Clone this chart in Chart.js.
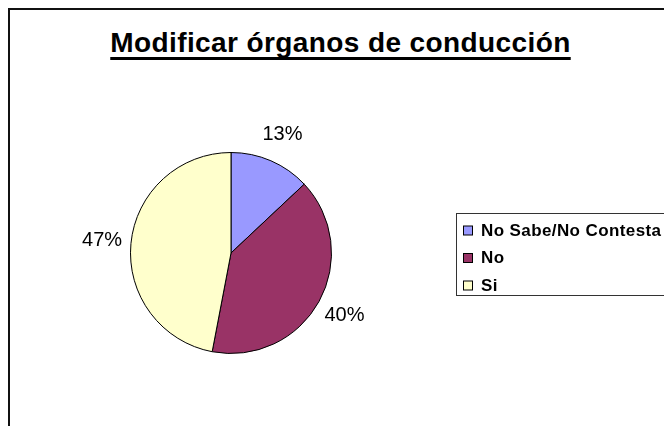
<!DOCTYPE html>
<html>
<head>
<meta charset="utf-8">
<script src="https://cdn.jsdelivr.net/npm/chart.js@4/dist/chart.umd.min.js"></script>
<style>
	html, body { margin: 0; padding: 0; background: #fff; overflow: hidden; }
	#wrap { position: relative; width: 664px; height: 426px; overflow: hidden; }
	#frame {
		position: absolute; left: 8px; top: 8px; width: 720px; height: 500px;
		border: 2px solid #111; box-sizing: border-box;
	}
	#title {
		position: absolute; left: 104px; width: 473px; top: 29px;
		text-align: center; font: bold 28px 'Liberation Sans', Arial, sans-serif;
		line-height: 28px; letter-spacing: 0.4px; color: #000;
		text-decoration: underline; text-decoration-thickness: 3px;
		text-decoration-skip-ink: none;
		text-underline-offset: 5px; white-space: nowrap;
	}
	canvas { position: absolute; left: 0; top: 0; }
</style>
</head>
<body>
<div id="wrap">
	<div id="frame"></div>
	<div id="title">Modificar órganos de conducción</div>
	<canvas id="pieChart" width="664" height="426"></canvas>
</div>
<script>
const categories = ['No Sabe/No Contesta', 'No', 'Si'];
const values = [13, 40, 47];
const sliceColors = ['#9999FF', '#993366', '#FFFFCC'];

// percentage labels outside each slice
const pctLabels = {
	id: 'pctLabels',
	afterDatasetsDraw(chart) {
		const ctx = chart.ctx;
		const meta = chart.getDatasetMeta(0);
		const total = values.reduce((a, b) => a + b, 0);
		ctx.save();
		ctx.font = '20px "Liberation Sans", Arial, sans-serif';
		ctx.fillStyle = '#000';
		ctx.textAlign = 'center';
		ctx.textBaseline = 'middle';
		meta.data.forEach((arc, i) => {
			const mid = (arc.startAngle + arc.endAngle) / 2;
			const d = arc.outerRadius + 29;
			const x = arc.x + Math.cos(mid) * d;
			const y = arc.y + Math.sin(mid) * d;
			ctx.fillText(Math.round((values[i] / total) * 100) + '%', x, y);
		});
		ctx.restore();
	},
};

// legend box on the right, drawn like the original
const boxLegend = {
	id: 'boxLegend',
	afterDraw(chart) {
		const ctx = chart.ctx;
		const left = 456.5, top = 213.5, bottom = 295.5;
		ctx.save();
		ctx.strokeStyle = '#333';
		ctx.lineWidth = 1;
		ctx.strokeRect(left, top, 300, bottom - top);
		ctx.font = 'bold 17px "Liberation Sans", Arial, sans-serif';
		ctx.letterSpacing = '0.4px';
		ctx.textBaseline = 'middle';
		categories.forEach((name, i) => {
			const cy = 230.5 + i * 27.5;
			ctx.fillStyle = sliceColors[i];
			ctx.fillRect(463, cy - 4.5, 9, 9);
			ctx.strokeStyle = '#000';
			ctx.strokeRect(463.5, cy - 4.5, 9, 9);
			ctx.fillStyle = '#000';
			ctx.fillText(name, 481, cy + 0.5);
		});
		ctx.restore();
	},
};

new Chart(document.getElementById('pieChart').getContext('2d'), {
	type: 'pie',
	data: {
		labels: categories,
		datasets: [
			{
				data: values,
				backgroundColor: sliceColors,
				borderColor: '#000',
				borderWidth: 1,
			},
		],
	},
	options: {
		responsive: false,
		animation: false,
		layout: {
			padding: { left: 130, right: 332, top: 152, bottom: 72 },
		},
		plugins: {
			legend: { display: false },
			title: { display: false },
			tooltip: { enabled: false },
		},
	},
	plugins: [pctLabels, boxLegend],
});
</script>
</body>
</html>
